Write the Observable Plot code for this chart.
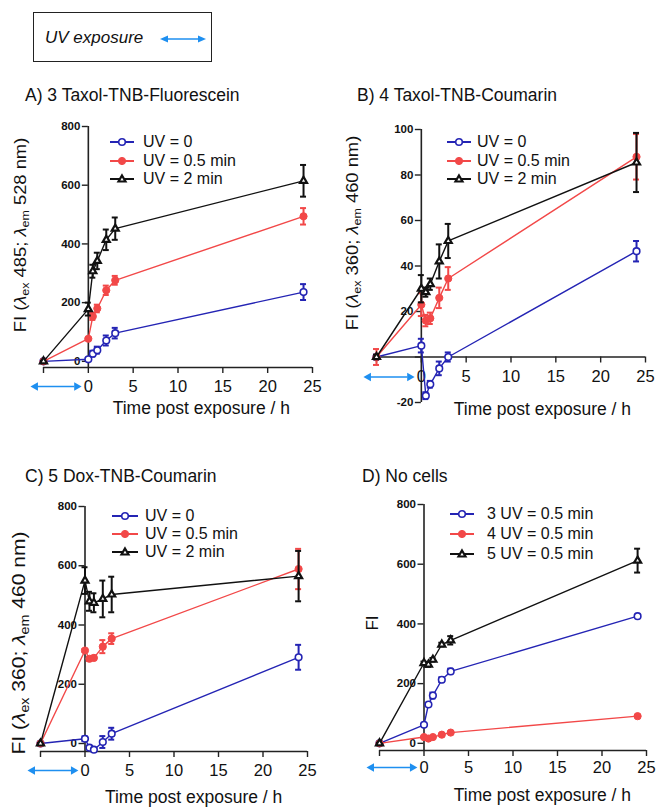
<!DOCTYPE html>
<html><head><meta charset="utf-8">
<script src="https://cdn.jsdelivr.net/npm/d3@7"></script>
<script src="https://cdn.jsdelivr.net/npm/@observablehq/plot@0.6"></script>
<style>
body{margin:0;background:#fff;}
#root{position:relative;width:658px;height:807px;overflow:hidden;font-family:"Liberation Sans",Arial,sans-serif;color:#111;background:#fff;}
.abs{position:absolute;white-space:nowrap;}
.title{font-size:17.5px;line-height:20px;}
.ylab{transform-origin:center center;line-height:20px;}
.ylab sub{font-size:0.68em;vertical-align:-0.3em;line-height:0;}
.leg{font-size:16px;line-height:18px;}
svg.plot{position:absolute;overflow:visible;}
</style></head><body><div id="root"></div>
<script>
// ---------- data ----------
const times = [-5, 0, 0.5, 1, 2, 3, 24];
const xTicks = [-5, 0, 5, 10, 15, 20, 25];
const xTickLabels = ["", "0", "5", "10", "15", "20", "25"];

// Panel A: 3 Taxol-TNB-Fluorescein
const aUV0 = [0, 7, 26, 38, 71, 96, 236];
const aUV0err = [3, 4, 10, 12, 17, 18, 27];
const aUV05 = [0, 77, 153, 180, 242, 276, 494];
const aUV05err = [2, 3, 12, 13, 16, 15, 28];
const aUV2 = [0, 178, 307, 342, 414, 452, 615];
const aUV2err = [2, 22, 22, 28, 35, 38, 54];

// Panel B: 4 Taxol-TNB-Coumarin
const bUV0 = [0, 5, -17, -12, -5, 0, 46.5];
const bUV0err = [1, 3, 1.5, 1.5, 3, 2, 4.5];
const bUV05 = [0, 23, 16, 17, 26, 34.5, 88];
const bUV05err = [3.5, 5, 2.5, 2.5, 4.5, 5, 10];
const bUV2 = [0, 30, 28.5, 32, 42, 51, 85.5];
const bUV2err = [1, 6, 2, 2.5, 7.5, 7.5, 13];

// Panel C: 5 Dox-TNB-Coumarin
const cUV0 = [0, 16, -14, -21, 5, 33, 291];
const cUV0err = [2, 8, 4, 5, 20, 20, 42];
const cUV05 = [0, 314, 286, 289, 327, 354, 589];
const cUV05err = [3, 5, 7, 7, 22, 18, 68];
const cUV2 = [0, 550, 480, 475, 488, 503, 565];
const cUV2err = [2, 45, 32, 32, 62, 60, 85];

// Panel D: No cells
const d3UV05 = [0, 62, 130, 160, 213, 241, 426];
const d3UV05err = [2, 3, 5, 10, 8, 9, 3];
const d4UV05 = [0, 21, 16, 21, 29, 36, 91];
const d4UV05err = [2, 2, 2, 3, 3, 3, 3];
const d5UV05 = [0, 269, 264, 280, 331, 345, 612];
const d5UV05err = [2, 5, 8, 6, 6, 14, 40];

const labelsABC = ["UV = 0", "UV = 0.5 min", "UV = 2 min"];
const labelsD = ["3 UV = 0.5 min", "4 UV = 0.5 min", "5 UV = 0.5 min"];
const yTicks800 = [0, 200, 400, 600, 800];
const yTicks100 = [-20, 0, 20, 40, 60, 80, 100];

// ---------- styles ----------
const BLUE = "#2424b4", RED = "#f24848", BLACK = "#111111", ARROW = "#1e8ff0", AXIS = "#222";
const styles = [
  {color: BLUE, symbol: "circle", fill: "white", r: 3.3, sw: 1.6},
  {color: RED, symbol: "circle", fill: RED, r: 3.6, sw: 1},
  {color: BLACK, symbol: "triangle", fill: "white", r: 2.6, sw: 2.2}
];

const root = document.getElementById("root");
function addDiv(html, cls, css) {
  const d = document.createElement("div");
  d.className = "abs " + cls;
  d.innerHTML = html;
  Object.assign(d.style, css);
  root.appendChild(d);
  return d;
}

function panel(cfg) {
  const series = cfg.series;
  const marks = [
    // axes
    Plot.ruleX([0], {y1: cfg.yDomain[0], y2: cfg.yDomain[1], stroke: AXIS, strokeWidth: 1.6}),
    Plot.ruleY([cfg.xAxisAt], {x1: -5, x2: 25, stroke: AXIS, strokeWidth: 1.6}),
    Plot.ruleY(cfg.yTicks, {y: d => d, x1: 0, x2: 0, insetLeft: -6, stroke: AXIS, strokeWidth: 1.4}),
    Plot.text(cfg.yTicks.filter(t => !cfg.hideY.includes(t)), {x: 0, y: d => d, text: d => String(d), dx: -8, textAnchor: "end", fontWeight: "bold", fontSize: 11.5, fill: "#111"}),
    Plot.ruleX(xTicks, {x: d => d, y1: cfg.xAxisAt, y2: cfg.xAxisAt, insetBottom: -6, stroke: AXIS, strokeWidth: 1.4}),
    Plot.text(xTicks, {x: d => d, y: cfg.xAxisAt, text: (d, i) => xTickLabels[i], dy: cfg.tickDy, fontSize: 16.5, fill: "#111"}),
    Plot.text(["Time post exposure / h"], {x: cfg.xLabelX, y: cfg.xAxisAt, text: d => d, dy: cfg.xLabelDy, fontSize: 17.5, fill: "#111"}),
    // UV exposure arrow under the pre-exposure segment
    Plot.ruleY([cfg.xAxisAt], {x1: -5.7, x2: -1.5, dy: cfg.tickDy, stroke: ARROW, strokeWidth: 1.6}),
    Plot.dot([{x: -5.9, a: -90}, {x: -1.3, a: 90}], {x: "x", y: () => cfg.xAxisAt, dy: cfg.tickDy, rotate: "a", symbol: "triangle", r: 3.2, fill: ARROW, stroke: "none"})
  ];
  series.forEach((s, k) => {
    const st = styles[k];
    const rows = s.values.map((v, i) => ({x: times[i], y: v, lo: v - s.err[i], hi: v + s.err[i]}));
    marks.push(
      Plot.line(rows, {x: "x", y: "y", stroke: st.color, strokeWidth: 1.4}),
      Plot.ruleX(rows, {x: "x", y1: "lo", y2: "hi", stroke: st.color, strokeWidth: 2}),
      Plot.ruleY(rows, {y: "hi", x1: "x", x2: "x", insetLeft: -3, insetRight: -3, stroke: st.color, strokeWidth: 2}),
      Plot.ruleY(rows, {y: "lo", x1: "x", x2: "x", insetLeft: -3, insetRight: -3, stroke: st.color, strokeWidth: 2}),
      Plot.dot(rows, {x: "x", y: "y", symbol: st.symbol, r: st.r, fill: st.fill, stroke: st.color, strokeWidth: st.sw})
    );
  });
  const svg = Plot.plot({
    width: 329, height: cfg.height,
    marginLeft: cfg.ml, marginRight: cfg.mr, marginTop: cfg.mt, marginBottom: cfg.mb,
    x: {domain: [-5, 25], axis: null},
    y: {domain: cfg.yDomain, axis: null},
    style: {fontFamily: '"Liberation Sans", Arial, sans-serif', background: "transparent", overflow: "visible"},
    marks
  });
  svg.classList.add("plot");
  svg.style.left = cfg.left + "px";
  svg.style.top = cfg.top + "px";
  root.appendChild(svg);

  // title
  addDiv(cfg.title, "title", {left: cfg.titleX + "px", top: (cfg.titleY - 10) + "px"});
  // y label
  const yl = addDiv(cfg.yLabel, "ylab", {left: cfg.yLabX + "px", top: cfg.yLabY + "px", fontSize: cfg.yLabSize + "px"});
  yl.style.transform = `translate(-50%,-50%) rotate(-90deg) scaleX(${cfg.yLabStretch})`;
  // legend
  cfg.legendLabels.forEach((lab, k) => {
    const st = styles[k];
    const y = cfg.legY + k * cfg.legStep;
    const w = cfg.legW;
    let sym;
    if (st.symbol === "circle") sym = `<circle cx="${w/2}" cy="7" r="${st.r}" fill="${st.fill}" stroke="${st.color}" stroke-width="${st.sw}"/>`;
    else sym = `<path d="${d3.symbol(d3.symbolTriangle, Math.PI * st.r * st.r)()}" transform="translate(${w/2},7.5)" fill="${st.fill}" stroke="${st.color}" stroke-width="${st.sw}"/>`;
    addDiv(`<svg width="${w}" height="14"><line x1="0" x2="${w}" y1="7" y2="7" stroke="${st.color}" stroke-width="2"/>${sym}</svg>`, "", {left: cfg.legX + "px", top: (y - 7) + "px"});
    addDiv(lab, "leg", {left: cfg.legTextX + "px", top: (y - 9) + "px"});
  });
}

const ylabBC = "FI (<i>λ</i><sub>ex</sub> 360; <i>λ</i><sub>em</sub> 460 nm)";

panel({
  left: 0, top: 110, height: 310, ml: 43, mr: 17, mt: 16, mb: 53,
  yDomain: [-21, 800], xAxisAt: -21, yTicks: yTicks800, hideY: [], tickDy: 19, xLabelX: 12.6, xLabelDy: 41,
  series: [{values: aUV0, err: aUV0err}, {values: aUV05, err: aUV05err}, {values: aUV2, err: aUV2err}],
  title: "A) 3 Taxol-TNB-Fluorescein", titleX: 25, titleY: 95,
  yLabel: "FI (<i>λ</i><sub>ex</sub> 485; <i>λ</i><sub>em</sub> 528 nm)", yLabX: 21, yLabY: 235, yLabSize: 17, yLabStretch: 1.08,
  legendLabels: labelsABC, legX: 110, legW: 24, legTextX: 143, legY: 142, legStep: 18.5
});
panel({
  left: 329, top: 110, height: 310, ml: 47, mr: 13, mt: 19, mb: 18,
  yDomain: [-20, 100], xAxisAt: 0, yTicks: yTicks100, hideY: [0], tickDy: 20, xLabelX: 13.5, xLabelDy: 52,
  series: [{values: bUV0, err: bUV0err}, {values: bUV05, err: bUV05err}, {values: bUV2, err: bUV2err}],
  title: "B) 4 Taxol-TNB-Coumarin", titleX: 357, titleY: 95,
  yLabel: ylabBC, yLabX: 353, yLabY: 233, yLabSize: 17, yLabStretch: 1.08,
  legendLabels: labelsABC, legX: 447, legW: 24, legTextX: 477, legY: 142, legStep: 18.5
});
panel({
  left: 0, top: 490, height: 317, ml: 40, mr: 22, mt: 16, mb: 56,
  yDomain: [-27, 800], xAxisAt: -27, yTicks: yTicks800, hideY: [], tickDy: 19, xLabelX: 12.2, xLabelDy: 46,
  series: [{values: cUV0, err: cUV0err}, {values: cUV05, err: cUV05err}, {values: cUV2, err: cUV2err}],
  title: "C) 5 Dox-TNB-Coumarin", titleX: 25, titleY: 476,
  yLabel: ylabBC, yLabX: 19, yLabY: 643, yLabSize: 18, yLabStretch: 1.17,
  legendLabels: labelsABC, legX: 112, legW: 26, legTextX: 145, legY: 516, legStep: 18
});
panel({
  left: 329, top: 490, height: 317, ml: 50, mr: 12, mt: 14, mb: 57,
  yDomain: [-24, 800], xAxisAt: -24, yTicks: yTicks800, hideY: [], tickDy: 17, xLabelX: 13.3, xLabelDy: 45,
  series: [{values: d3UV05, err: d3UV05err}, {values: d4UV05, err: d4UV05err}, {values: d5UV05, err: d5UV05err}],
  title: "D) No cells", titleX: 362, titleY: 476,
  yLabel: "FI", yLabX: 373, yLabY: 623, yLabSize: 17, yLabStretch: 1,
  legendLabels: labelsD, legX: 450, legW: 24, legTextX: 487, legY: 514, legStep: 20
});

// top "UV exposure" key box
const box = addDiv(`<span style="position:absolute;left:11px;top:15px;font-style:italic;font-size:17px;line-height:20px;">UV exposure</span>
<svg style="position:absolute;left:126px;top:20px" width="46" height="12">
<line x1="5" x2="41" y1="6" y2="6" stroke="${ARROW}" stroke-width="1.6"/>
<path d="M0,6 L8,2.5 L8,9.5 Z" fill="${ARROW}"/><path d="M46,6 L38,2.5 L38,9.5 Z" fill="${ARROW}"/></svg>`, "", {left: "33px", top: "12px", width: "177px", height: "48px", border: "1.5px solid #222"});
</script></body></html>
